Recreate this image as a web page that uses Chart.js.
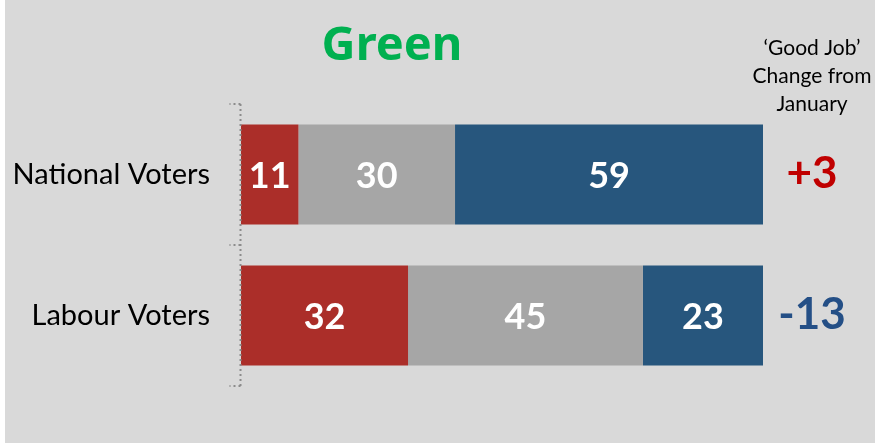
<!DOCTYPE html>
<html>
<head>
<meta charset="utf-8">
<script src="https://cdn.jsdelivr.net/npm/chart.js@4/dist/chart.umd.min.js"></script>
<style>
  html, body { margin: 0; padding: 0; background: #ffffff; }
  canvas { display: block; }
</style>
</head>
<body>
<canvas id="c" width="879" height="443"></canvas>
<script>
// ---- data ----
const categories = ['National Voters', 'Labour Voters'];
const badJob = [11, 32];
const neither = [30, 45];
const goodJob = [59, 23];
const changeFromJanuary = [3, -13];
const titleText = 'Green';
const headerLines = ['\u2018Good Job\u2019', 'Change from', 'January'];

const RED = '#ab2e29', GREY = '#a6a6a6', BLUE = '#27567d';

const bgPlugin = {
  id: 'bg',
  beforeDraw(chart) {
    const ctx = chart.ctx;
    ctx.save();
    ctx.fillStyle = '#ffffff';
    ctx.fillRect(0, 0, chart.width, chart.height);
    ctx.fillStyle = '#d9d9d9';
    ctx.fillRect(5, 0, 870, chart.height);
    ctx.restore();
  }
};

// dotted category axis line with dotted tick marks at category boundaries
const dottedAxisPlugin = {
  id: 'dottedAxis',
  afterDatasetsDraw(chart) {
    const ctx = chart.ctx;
    const ys = chart.scales.y;
    const x = chart.chartArea.left - 0.5;
    const n = ys.ticks.length;
    const step = (ys.bottom - ys.top) / n;
    ctx.save();
    ctx.strokeStyle = '#8c8c8c';
    ctx.lineWidth = 2;
    ctx.setLineDash([2, 3]);
    ctx.beginPath();
    ctx.moveTo(x, ys.top);
    ctx.lineTo(x, ys.bottom);
    ctx.stroke();
    for (let i = 0; i <= n; i++) {
      const y = Math.round(ys.top + i * step);
      ctx.beginPath();
      ctx.moveTo(x, y);
      ctx.lineTo(x - 11, y);
      ctx.stroke();
    }
    ctx.restore();
  }
};

const valuePlugin = {
  id: 'values',
  afterDatasetsDraw(chart) {
    const ctx = chart.ctx;
    ctx.save();
    ctx.fillStyle = '#ffffff';
    ctx.font = 'bold 36px Lato, "Liberation Sans", sans-serif';
    ctx.textAlign = 'center';
    ctx.textBaseline = 'middle';
    chart.data.datasets.forEach((ds, di) => {
      const meta = chart.getDatasetMeta(di);
      meta.data.forEach((el, i) => {
        const cx = (el.x + el.base) / 2;
        ctx.fillText(String(ds.data[i]), cx, el.y + 2);
      });
    });
    ctx.restore();
  }
};

const sidePlugin = {
  id: 'side',
  afterDraw(chart) {
    const ctx = chart.ctx;
    ctx.save();
    // title
    ctx.fillStyle = '#00b050';
    ctx.font = 'bold 47px "Noto Sans", Lato, sans-serif';
    ctx.textAlign = 'center';
    ctx.textBaseline = 'alphabetic';
    ctx.fillText(titleText, 392, 60);
    // header
    ctx.fillStyle = '#000000';
    ctx.font = '21px Lato, "Open Sans", sans-serif';
    headerLines.forEach((t, i) => ctx.fillText(t, 812, 55 + i * 28));
    // changes
    const ys = chart.scales.y;
    ctx.font = 'bold 44px Lato, "Liberation Sans", sans-serif';
    ctx.textBaseline = 'middle';
    changeFromJanuary.forEach((v, i) => {
      ctx.fillStyle = v >= 0 ? '#c00000' : '#244f86';
      const txt = (v > 0 ? '+' : '') + v;
      ctx.fillText(txt, 812, ys.getPixelForValue(i) - 1);
    });
    ctx.restore();
  }
};

new Chart(document.getElementById('c'), {
  type: 'bar',
  data: {
    labels: categories,
    datasets: [
      { label: 'Bad job', data: badJob, backgroundColor: RED },
      { label: 'Neither', data: neither, backgroundColor: GREY },
      { label: 'Good job', data: goodJob, backgroundColor: BLUE }
    ]
  },
  options: {
    indexAxis: 'y',
    responsive: false,
    animation: false,
    devicePixelRatio: 1,
    layout: { padding: { left: 0, right: 116, top: 104, bottom: 57 } },
    datasets: { bar: { barPercentage: 0.71, categoryPercentage: 1.0, borderWidth: 0 } },
    plugins: { legend: { display: false }, tooltip: { enabled: false }, title: { display: false } },
    scales: {
      x: { stacked: true, min: 0, max: 100, display: false },
      y: {
        stacked: true,
        afterFit(scale) { scale.width = 241; },
        border: { display: false },
        grid: { display: false, drawTicks: false },
        ticks: {
          color: '#000000', padding: 31,
          font: { family: 'Lato, "Open Sans", sans-serif', size: 29 }
        }
      }
    }
  },
  plugins: [bgPlugin, valuePlugin, dottedAxisPlugin, sidePlugin]
});
</script>
</body>
</html>
